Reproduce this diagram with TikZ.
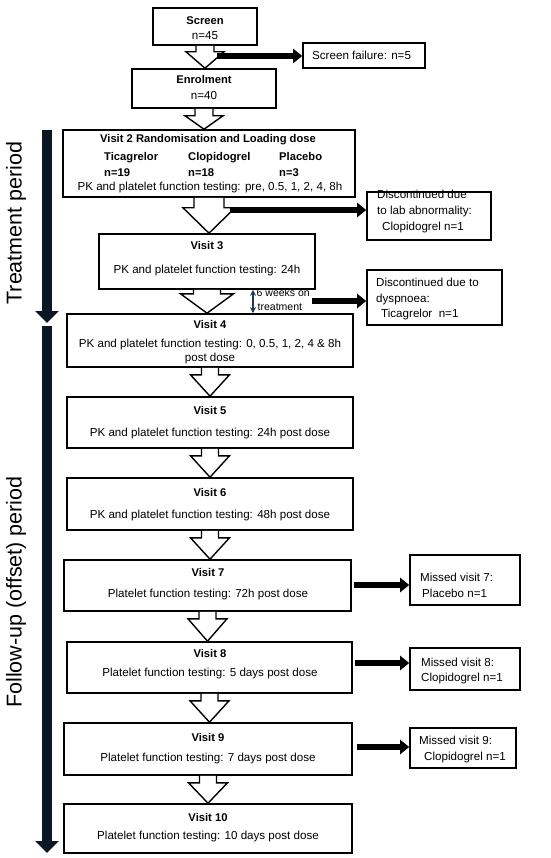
\documentclass[tikz,border=0pt]{standalone}
\usepackage{fontspec}
\setmainfont{Liberation Sans}
\usetikzlibrary{arrows.meta,calc}
\definecolor{navyarrow}{HTML}{0B1724}
\definecolor{weekblue}{HTML}{1B3A57}
\newcommand\bodyfont{\fontsize{11.6}{13}\selectfont}
\newcommand\titlefont{\fontsize{11.2}{13}\selectfont\bfseries}
\newcommand\periodfont{\fontsize{21.5}{24}\selectfont}
\newcommand\weekfont{\fontsize{10.5}{12}\selectfont}
\newcommand\hollowarrow[5]{%
  \draw[hollow] let \p1=(#1.south), \p2=(#2.north) in
    (\x1-#3pt,\y1) -- (\x1-#3pt,\y1-#5pt) -- (\x1-#4pt,\y1-#5pt) -- (\x1,\y2)
    -- (\x1+#4pt,\y1-#5pt) -- (\x1+#3pt,\y1-#5pt) -- (\x1+#3pt,\y1);
}
\begin{document}
\begin{tikzpicture}[x=1pt,y=-1pt,
  box/.style={draw, line width=1.6pt, inner sep=0pt, fill=white},
  hollow/.style={draw, line width=1.4pt, fill=white, line join=miter},
  txt/.style={font=\bodyfont, inner sep=0pt, anchor=base},
  ttl/.style={font=\titlefont, inner sep=0pt, anchor=base},
  stxt/.style={font=\bodyfont, inner sep=0pt, anchor=base west},
  sttl/.style={font=\titlefont, inner sep=0pt, anchor=base west},
  blackarrow/.style={line width=6.5pt, -{Triangle[length=9pt,width=14pt]}},
  periodarrow/.style={navyarrow, line width=10pt, -{Triangle[length=12pt,width=23pt]}},
  weekarrow/.style={weekblue, line width=1.7pt, {Stealth[length=6pt,width=6pt]}-{Stealth[length=6pt,width=6pt]}},
  period/.style={font=\periodfont, rotate=90, inner sep=0pt}
]
\useasboundingbox (0,0) rectangle (550,858);

% ---------- boxes ----------
\node[box, minimum width=104pt, minimum height=37pt] (scr) at (205,26.5) {};
\node[box, minimum width=122pt, minimum height=25pt] (sf) at (364,55.5) {};
\node[box, minimum width=144pt, minimum height=39pt] (enr) at (204,88.5) {};
\node[box, minimum width=292pt, minimum height=67pt] (v2) at (209,163.5) {};
\node[box, minimum width=124pt, minimum height=48pt] (d1) at (429,216) {};
\node[box, minimum width=216pt, minimum height=55pt] (v3) at (207,261.5) {};
\node[box, minimum width=135pt, minimum height=55pt] (d2) at (434.5,297.5) {};
\node[box, minimum width=286pt, minimum height=53pt] (v4) at (210,340.5) {};
\node[box, minimum width=286pt, minimum height=51pt] (v5) at (210,422.5) {};
\node[box, minimum width=286pt, minimum height=52pt] (v6) at (210,504) {};
\node[box, minimum width=287pt, minimum height=51pt] (v7) at (207.5,585.5) {};
\node[box, minimum width=110pt, minimum height=50pt] (m7) at (465,580) {};
\node[box, minimum width=285pt, minimum height=51pt] (v8) at (209.5,667.5) {};
\node[box, minimum width=110pt, minimum height=42pt] (m8) at (465,669) {};
\node[box, minimum width=288pt, minimum height=52pt] (v9) at (208,749) {};
\node[box, minimum width=106pt, minimum height=40pt] (m9) at (463,748) {};
\node[box, minimum width=288pt, minimum height=49pt] (v10) at (208,828.5) {};

% ---------- hollow flow arrows ----------
\hollowarrow{scr}{enr}{9}{19}{6}
\hollowarrow{enr}{v2}{9}{19}{7}
\hollowarrow{v2}{v3}{15}{26}{10}
\hollowarrow{v3}{v4}{13.5}{26.5}{4}
\hollowarrow{v4}{v5}{8.5}{19.5}{7}
\hollowarrow{v5}{v6}{8.5}{19.5}{7}
\hollowarrow{v6}{v7}{8.5}{19.5}{7}
\hollowarrow{v7}{v8}{8.5}{19.5}{7}
\hollowarrow{v8}{v9}{8.5}{19.5}{7}
\hollowarrow{v9}{v10}{8.5}{19.5}{7}

% ---------- black exit arrows ----------
\coordinate (b1) at (217,56);
\coordinate (b2) at (230,210);
\coordinate (b3) at (312,301);
\coordinate (b4) at (354,585);
\coordinate (b5) at (355,663);
\coordinate (b6) at (357,747);
\draw[blackarrow] (b1) -- (b1 -| sf.west);
\draw[blackarrow] (b2) -- (b2 -| d1.west);
\draw[blackarrow] (b3) -- (b3 -| d2.west);
\draw[blackarrow] (b4) -- (b4 -| m7.west);
\draw[blackarrow] (b5) -- (b5 -| m8.west);
\draw[blackarrow] (b6) -- (b6 -| m9.west);

% ---------- 6 weeks double arrow ----------
\coordinate (wk) at (253,300);
\draw[weekarrow] (wk |- v3.south) -- (wk |- v4.north);
\node[font=\weekfont, inner sep=0pt, anchor=base west] (wk1) at (256.5,296.5) {6 weeks on};
\node[font=\weekfont, inner sep=0pt, anchor=base west] (wk2) at (257.5,310.5) {treatment};

% ---------- period arrows ----------
\coordinate (ta) at (47,130);
\coordinate (tb) at (47,323);
\coordinate (fa) at (47,326);
\coordinate (fb) at (47,853);
\draw[periodarrow] (ta) -- (tb);
\draw[periodarrow] (fa) -- (fb);
\node[period] (tp) at (16,223) {Treatment period};
\node[period] (fp) at (16,592) {Follow-up (offset) period};

% ---------- texts ----------
\node[ttl] (scrt) at (205,25) {Screen};
\node[txt] (scrn) at (205,40) {n=45};
\node[stxt] (sft) at (312,59.5) {Screen failure: n=5};
\node[ttl] (enrt) at (204,84) {Enrolment};
\node[txt] (enrn) at (204,100) {n=40};

\node[ttl] (v2t) at (208,143) {Visit 2 Randomisation and Loading dose};
\node[sttl] (tica) at (104,161) {Ticagrelor};
\node[sttl] (tican) at (104,176.5) {n=19};
\node[sttl] (clop) at (188,161) {Clopidogrel};
\node[sttl] (clopn) at (188,176.5) {n=18};
\node[sttl] (plac) at (279,161) {Placebo};
\node[sttl] (placn) at (279,176.5) {n=3};
\node[txt] (v2l) at (210,191) {PK and platelet function testing: pre, 0.5, 1, 2, 4, 8h};

\node[stxt] (d1a) at (377,199) {Discontinued due};
\node[stxt] (d1b) at (377,215) {to lab abnormality:};
\node[stxt] (d1c) at (382,231) {Clopidogrel n=1};

\node[ttl] (v3t) at (207,250) {Visit 3};
\node[txt] (v3l) at (207,273) {PK and platelet function testing: 24h};

\node[stxt] (d2a) at (376,287) {Discontinued due to};
\node[stxt] (d2b) at (376,302) {dyspnoea:};
\node[stxt] (d2c) at (381,317) {Ticagrelor\ \ n=1};

\node[ttl] (v4t) at (210,328) {Visit 4};
\node[txt] (v4l) at (210,347) {PK and platelet function testing: 0, 0.5, 1, 2, 4 \& 8h};
\node[txt] (v4m) at (210,361) {post dose};

\node[ttl] (v5t) at (210,414) {Visit 5};
\node[txt] (v5l) at (210,436) {PK and platelet function testing: 24h post dose};

\node[ttl] (v6t) at (210,496) {Visit 6};
\node[txt] (v6l) at (210,518) {PK and platelet function testing: 48h post dose};

\node[ttl] (v7t) at (208,576) {Visit 7};
\node[txt] (v7l) at (208,597) {Platelet function testing: 72h post dose};
\node[stxt] (m7a) at (420,581) {Missed visit 7:};
\node[stxt] (m7b) at (422,597) {Placebo n=1};

\node[ttl] (v8t) at (210,657) {Visit 8};
\node[txt] (v8l) at (210,676) {Platelet function testing: 5 days post dose};
\node[stxt] (m8a) at (421,666) {Missed visit 8:};
\node[stxt] (m8b) at (421,681) {Clopidogrel n=1};

\node[ttl] (v9t) at (208,741) {Visit 9};
\node[txt] (v9l) at (208,761) {Platelet function testing: 7 days post dose};
\node[stxt] (m9a) at (419,744) {Missed visit 9:};
\node[stxt] (m9b) at (424,760) {Clopidogrel n=1};

\node[ttl] (v10t) at (208,821) {Visit 10};
\node[txt] (v10l) at (208,839) {Platelet function testing: 10 days post dose};
\end{tikzpicture}
\end{document}
